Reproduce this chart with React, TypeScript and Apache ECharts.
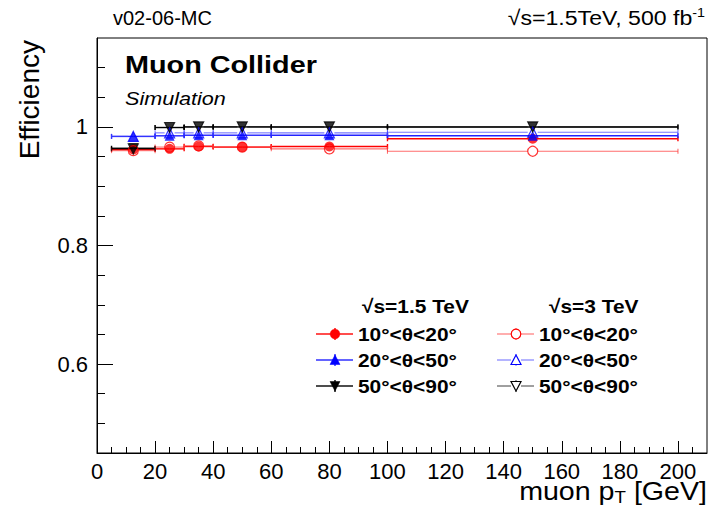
import React, { useEffect, useRef } from "react";
import * as echarts from "echarts";

// ---- data ----
const binLow = [5, 20, 30, 40, 60, 100];
const binHigh = [20, 30, 40, 60, 100, 200];
const binCenter = [12.5, 25, 35, 50, 80, 150];

const eff15_10_20 = [0.962, 0.963, 0.967, 0.966, 0.967, 0.98];
const eff15_20_50 = [0.984, 0.985, 0.986, 0.986, 0.986, 0.985];
const eff15_50_90 = [0.964, 0.999, 1.0, 1.0, 1.0, 1.0];
const eff3_10_20 = [0.96, 0.966, 0.968, 0.966, 0.963, 0.959];
const eff3_20_50 = [0.984, 0.99, 0.99, 0.99, 0.99, 0.991];
const eff3_50_90 = [0.963, 0.999, 1.0, 1.0, 1.0, 1.0];

const xMajorTicks = [0, 20, 40, 60, 80, 100, 120, 140, 160, 180, 200];
const xMinorTicks = [
  0, 5, 10, 15, 20, 25, 30, 35, 40, 45, 50, 55, 60, 65, 70, 75, 80, 85, 90, 95, 100,
  105, 110, 115, 120, 125, 130, 135, 140, 145, 150, 155, 160, 165, 170, 175, 180,
  185, 190, 195, 200, 205,
];
const yMajorTicks = [0.6, 0.8, 1.0];
const yMinorTicks = [
  0.45, 0.5, 0.55, 0.6, 0.65, 0.7, 0.75, 0.8, 0.85, 0.9, 0.95, 1.0, 1.05, 1.1,
];

const legendHeaders = ["√s=1.5 TeV", "√s=3 TeV"];
const legendLabels = ["10°<θ<20°", "20°<θ<50°", "50°<θ<90°"];

const FONT = '"Liberation Sans", Arial, Helvetica, sans-serif';

type Def = {
  values: number[];
  color: string;
  lineColor: string;
  lineWidth: number;
  symbol: string;
  rotate: number;
  filled: boolean;
  size: number;
};

const defs: Def[] = [
  { values: eff15_10_20, color: "#ff0000", lineColor: "#ff0000", lineWidth: 1.4, symbol: "circle", rotate: 0, filled: true, size: 10 },
  { values: eff15_20_50, color: "#0000ff", lineColor: "#2222ff", lineWidth: 1.4, symbol: "triangle", rotate: 0, filled: true, size: 10 },
  { values: eff15_50_90, color: "#000000", lineColor: "#000000", lineWidth: 1.4, symbol: "triangle", rotate: 180, filled: true, size: 10 },
  { values: eff3_10_20, color: "#ff0000", lineColor: "rgba(255,60,60,0.75)", lineWidth: 1.1, symbol: "circle", rotate: 0, filled: false, size: 10 },
  { values: eff3_20_50, color: "#0000ff", lineColor: "rgba(60,60,255,0.7)", lineWidth: 1.1, symbol: "triangle", rotate: 0, filled: false, size: 10 },
  { values: eff3_50_90, color: "#000000", lineColor: "rgba(0,0,0,0.75)", lineWidth: 1.0, symbol: "triangle", rotate: 180, filled: false, size: 10 },
];

function buildSeries() {
  const out: any[] = [];
  defs.forEach((d, k) => {
    out.push({
      type: "custom",
      silent: true,
      xAxisIndex: 0,
      yAxisIndex: 0,
      z: 2 + k * 2,
      data: binLow.map((lo, i) => [lo, binHigh[i], d.values[i], binCenter[i]]),
      encode: { x: [0, 1, 3], y: 2 },
      renderItem: (_p: any, api: any) => {
        const y = api.value(2);
        const a = api.coord([api.value(0), y]);
        const b = api.coord([api.value(1), y]);
        const c = api.coord([api.value(3), y]);
        const gap = d.filled ? 0 : 5;
        const style = { stroke: d.lineColor, lineWidth: d.lineWidth };
        return {
          type: "group",
          children: [
            { type: "line", shape: { x1: a[0], y1: a[1], x2: c[0] - gap, y2: c[1] }, style },
            { type: "line", shape: { x1: c[0] + gap, y1: c[1], x2: b[0], y2: b[1] }, style },
            { type: "line", shape: { x1: a[0], y1: a[1] - 2.5, x2: a[0], y2: a[1] + 2.5 }, style },
            { type: "line", shape: { x1: b[0], y1: b[1] - 2.5, x2: b[0], y2: b[1] + 2.5 }, style },
          ],
        };
      },
    });
    out.push({
      type: "scatter",
      silent: true,
      xAxisIndex: 0,
      yAxisIndex: 0,
      z: 3 + k * 2,
      symbol: d.symbol,
      symbolRotate: d.rotate,
      symbolSize: d.size,
      data: binCenter.map((c, i) => [c, d.values[i]]),
      itemStyle: d.filled
        ? { color: d.color }
        : { color: "rgba(255,255,255,0)", borderColor: d.color, borderWidth: 1.2 },
    });
  });
  return out;
}

function legendGraphics() {
  const els: any[] = [];
  const rowY = [334, 360, 386];
  const cols = [
    { lx1: 316, lx2: 353, mx: 335, tx: 358, hx: 362, defsIdx: [0, 1, 2] },
    { lx1: 497, lx2: 534, mx: 516, tx: 539, hx: 549, defsIdx: [3, 4, 5] },
  ];
  cols.forEach((col, ci) => {
    els.push({
      type: "text",
      x: col.hx,
      y: 306,
      scaleX: 1.1,
      z: 100,
      style: {
        text: legendHeaders[ci],
        fill: "#000",
        fontSize: 19,
        fontWeight: "bold",
        fontFamily: FONT,
        textAlign: "left",
        textVerticalAlign: "middle",
      },
    });
    col.defsIdx.forEach((di, r) => {
      const d = defs[di];
      const y = rowY[r];
      const ls = { stroke: d.lineColor, lineWidth: d.lineWidth };
      els.push({ type: "line", z: 100, shape: { x1: col.lx1, y1: y, x2: col.mx - (d.filled ? 0 : 5), y2: y }, style: ls });
      els.push({ type: "line", z: 100, shape: { x1: col.mx + (d.filled ? 0 : 5), y1: y, x2: col.lx2, y2: y }, style: ls });
      els.push({ type: "line", z: 100, shape: { x1: col.mx, y1: y - 6, x2: col.mx, y2: y - (d.filled ? 0 : 5) }, style: ls });
      els.push({ type: "line", z: 100, shape: { x1: col.mx, y1: y + (d.filled ? 0 : 5), x2: col.mx, y2: y + 6 }, style: ls });
      const mstyle = d.filled
        ? { fill: d.color, stroke: d.color, lineWidth: 0.5 }
        : { fill: "rgba(255,255,255,1)", stroke: d.color, lineWidth: 1.2 };
      if (d.symbol === "circle") {
        els.push({ type: "circle", z: 101, shape: { cx: col.mx, cy: y, r: 4.8 }, style: mstyle });
      } else if (d.rotate === 0) {
        els.push({
          type: "polygon",
          z: 101,
          shape: { points: [[col.mx, y - 5], [col.mx + 5, y + 4.5], [col.mx - 5, y + 4.5]] },
          style: mstyle,
        });
      } else {
        els.push({
          type: "polygon",
          z: 101,
          shape: { points: [[col.mx, y + 5], [col.mx + 5, y - 4.5], [col.mx - 5, y - 4.5]] },
          style: mstyle,
        });
      }
      els.push({
        type: "text",
        x: col.tx,
        y: y,
        scaleX: 1.1,
        z: 100,
        style: {
          text: legendLabels[r],
          fill: "#000",
          fontSize: 19,
          fontWeight: "bold",
          fontFamily: FONT,
          textAlign: "left",
          textVerticalAlign: "middle",
        },
      });
    });
  });
  return els;
}

export default function App() {
  const ref = useRef<HTMLDivElement>(null);
  useEffect(() => {
    if (!ref.current) return;
    const chart = echarts.init(ref.current, undefined, { renderer: "svg" });
    const axisBase = {
      type: "value",
      splitLine: { show: false },
    };
    chart.setOption({
      animation: false,
      backgroundColor: "#ffffff",
      grid: {
        left: 97,
        top: 38,
        right: 10,
        bottom: 59,
        show: true,
        borderColor: "#000",
        borderWidth: 1,
        backgroundColor: "rgba(0,0,0,0)",
      },
      xAxis: [
        {
          ...axisBase,
          min: 0,
          max: 210,
          position: "bottom",
          axisLine: { show: true, lineStyle: { color: "#000", width: 1 } },
          axisTick: { show: true, inside: true, length: 12, customValues: xMajorTicks, lineStyle: { color: "#000" } },
          axisLabel: { show: true, customValues: xMajorTicks, color: "#000", fontSize: 22, fontFamily: FONT, margin: 7 },
        },
        {
          ...axisBase,
          min: 0,
          max: 210,
          position: "bottom",
          axisLine: { show: false },
          axisTick: { show: true, inside: true, length: 6, customValues: xMinorTicks, lineStyle: { color: "#000" } },
          axisLabel: { show: false },
        },
      ],
      yAxis: [
        {
          ...axisBase,
          min: 0.45,
          max: 1.15,
          position: "left",
          axisLine: { show: true, lineStyle: { color: "#000", width: 1 } },
          axisTick: { show: true, inside: true, length: 16, customValues: yMajorTicks, lineStyle: { color: "#000" } },
          axisLabel: { show: true, customValues: yMajorTicks, color: "#000", fontSize: 22, fontFamily: FONT, margin: 9 },
        },
        {
          ...axisBase,
          min: 0.45,
          max: 1.15,
          position: "left",
          axisLine: { show: false },
          axisTick: { show: true, inside: true, length: 8, customValues: yMinorTicks, lineStyle: { color: "#000" } },
          axisLabel: { show: false },
        },
      ],
      series: buildSeries(),
      graphic: [
        {
          type: "text",
          x: 113,
          y: 18,
          z: 100,
          style: { text: "v02-06-MC", fill: "#000", fontSize: 20, fontFamily: FONT, textAlign: "left", textVerticalAlign: "middle" },
        },
        {
          type: "text",
          x: 705,
          y: 18,
          scaleX: 1.1,
          z: 100,
          style: {
            text: "{a|√s=1.5TeV, 500 fb}{s|-1}",
            fill: "#000",
            fontFamily: FONT,
            textAlign: "right",
            textVerticalAlign: "middle",
            rich: {
              a: { fontSize: 21, fontFamily: FONT, fill: "#000", lineHeight: 24, verticalAlign: "middle" },
              s: { fontSize: 13, fontFamily: FONT, fill: "#000", lineHeight: 24, verticalAlign: "top", padding: [0, 0, 12, 0] },
            },
          },
        },
        {
          type: "text",
          x: 125,
          y: 65,
          scaleX: 1.2,
          z: 100,
          style: { text: "Muon Collider", fill: "#000", fontSize: 24, fontWeight: "bold", fontFamily: FONT, textAlign: "left", textVerticalAlign: "middle" },
        },
        {
          type: "text",
          x: 125,
          y: 99,
          scaleX: 1.2,
          z: 100,
          style: { text: "Simulation", fill: "#000", fontSize: 18, fontStyle: "italic", fontFamily: FONT, textAlign: "left", textVerticalAlign: "middle" },
        },
        {
          type: "text",
          x: 29,
          y: 40,
          rotation: Math.PI / 2,
          z: 100,
          style: { text: "Efficiency", fill: "#000", fontSize: 28, fontFamily: FONT, textAlign: "right", textVerticalAlign: "middle" },
        },
        {
          type: "text",
          x: 707,
          y: 491,
          scaleX: 1.1,
          z: 100,
          style: {
            text: "{a|muon p}{b|T}{a| [GeV]}",
            fill: "#000",
            fontFamily: FONT,
            textAlign: "right",
            textVerticalAlign: "middle",
            rich: {
              a: { fontSize: 26, fontFamily: FONT, fill: "#000", lineHeight: 30, verticalAlign: "middle" },
              b: { fontSize: 17, fontFamily: FONT, fill: "#000", lineHeight: 30, verticalAlign: "bottom", padding: [14, 0, 0, 0] },
            },
          },
        },
        ...legendGraphics(),
      ],
    });
    return () => chart.dispose();
  }, []);
  return (
    <div
      ref={ref}
      style={{ position: "fixed", left: 0, top: 0, width: 717, height: 512 }}
    />
  );
}
